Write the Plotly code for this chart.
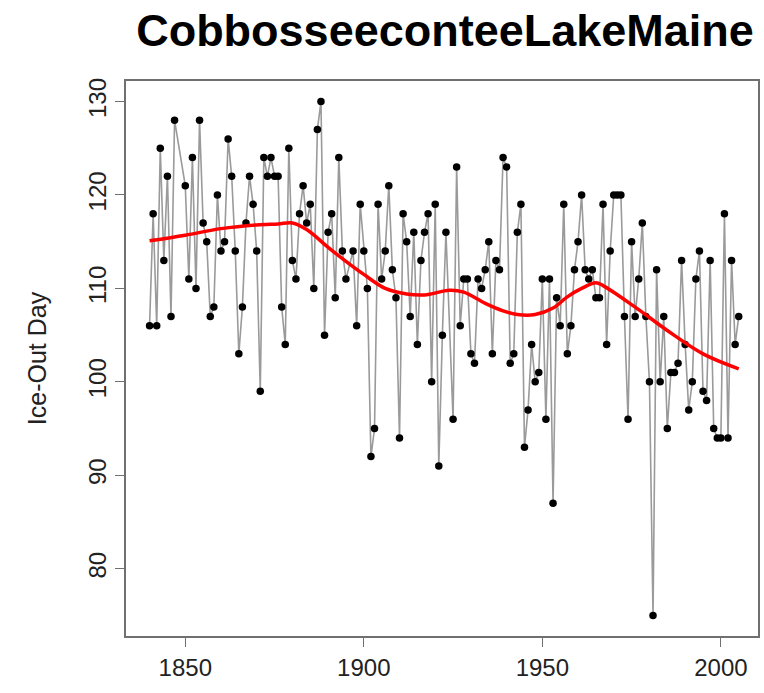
import plotly.graph_objects as go

# ---- data ----
years = (list(range(1840, 1848)) + list(range(1850, 1896)) +
         list(range(1897, 1924)) + list(range(1925, 2006)))
ice_out = [
    106, 118, 106, 125, 113, 122, 107, 128,
    121, 111, 124, 110, 128, 117, 115, 107, 108, 120,
    114, 115, 126, 122, 114, 103, 108, 117, 122, 119,
    114, 99, 124, 122, 124, 122, 122, 108, 104, 125,
    113, 111, 118, 121, 117, 119, 110, 127, 130, 105,
    116, 118, 109, 124, 114, 111,
    114, 106, 119,
    114, 110, 92, 95, 119, 111, 114, 121, 112, 109,
    94, 118, 115, 107, 116, 104, 113, 116, 118, 100,
    119, 91, 105, 116,
    96, 123, 106, 111, 111,
    103, 102, 111, 110, 112, 115, 103, 113, 112, 124,
    123, 102, 103, 116, 119, 93, 97, 104, 100, 101,
    111, 96, 111, 87, 109, 106, 119, 103, 106, 112,
    115, 120, 112, 111, 112, 109, 109, 119, 104, 114,
    120, 120, 120, 107, 96, 115, 107, 111, 117, 107,
    100, 75, 112, 100, 107, 95, 101, 101, 102, 113,
    104, 97, 100, 111, 114, 99, 98, 113, 95, 94,
    94, 118, 94, 113, 104, 107,
]

smooth_years = [1840, 1850, 1860, 1870, 1876, 1880, 1884, 1890, 1895, 1900,
                1906, 1912, 1917, 1924, 1928, 1934, 1939, 1943, 1948, 1953,
                1957, 1961, 1965, 1967, 1976, 1985, 1995, 2005]
smooth_vals = [115.1, 115.7, 116.4, 116.8, 116.9, 117.0, 116.3, 114.4, 112.9, 111.5,
               110.0, 109.4, 109.3, 109.8, 109.6, 108.4, 107.6, 107.2, 107.2, 107.9,
               109.1, 110.0, 110.6, 110.3, 108.0, 105.5, 103.0, 101.4]

x_ticks = [1850, 1900, 1950, 2000]
y_ticks = [80, 90, 100, 110, 120, 130]

FONT = "Liberation Sans, Arial, sans-serif"

fig = go.Figure()
fig.add_trace(go.Scatter(
    x=years, y=ice_out, mode="lines+markers",
    line=dict(color="#9a9a9a", width=1.6),
    marker=dict(color="black", size=7.5),
    showlegend=False, hoverinfo="x+y"))
fig.add_trace(go.Scatter(
    x=smooth_years, y=smooth_vals, mode="lines",
    line=dict(color="#ff0000", width=3.5, shape="spline", smoothing=1.0),
    showlegend=False))

axis_common = dict(
    showgrid=False, zeroline=False, showline=True, mirror=True,
    linecolor="#707070", linewidth=1.5,
    ticks="outside", ticklen=9, tickwidth=1.2, tickcolor="#707070",
    tickfont=dict(family=FONT, size=24, color="#222222"),
)

fig.update_layout(
    width=764, height=693,
    margin=dict(l=126, r=4, t=81, b=57),
    paper_bgcolor="white", plot_bgcolor="white",
    title=dict(text="<b>CobbosseeconteeLakeMaine</b>",
               font=dict(family=FONT, size=45, color="black"),
               x=445 / 764, xanchor="center",
               y=1 - 30 / 693, yanchor="middle"),
    xaxis=dict(range=[1833.4, 2010.4], tickvals=x_ticks,
               ticktext=[str(v) for v in x_ticks], **axis_common),
    yaxis=dict(range=[72.8, 132.2], tickvals=y_ticks,
               ticktext=[str(v) for v in y_ticks], tickangle=-90,
               title=dict(text="Ice-Out Day",
                          font=dict(family=FONT, size=25, color="#222222"),
                          standoff=30),
               **axis_common),
)

fig.write_html("out.html")
